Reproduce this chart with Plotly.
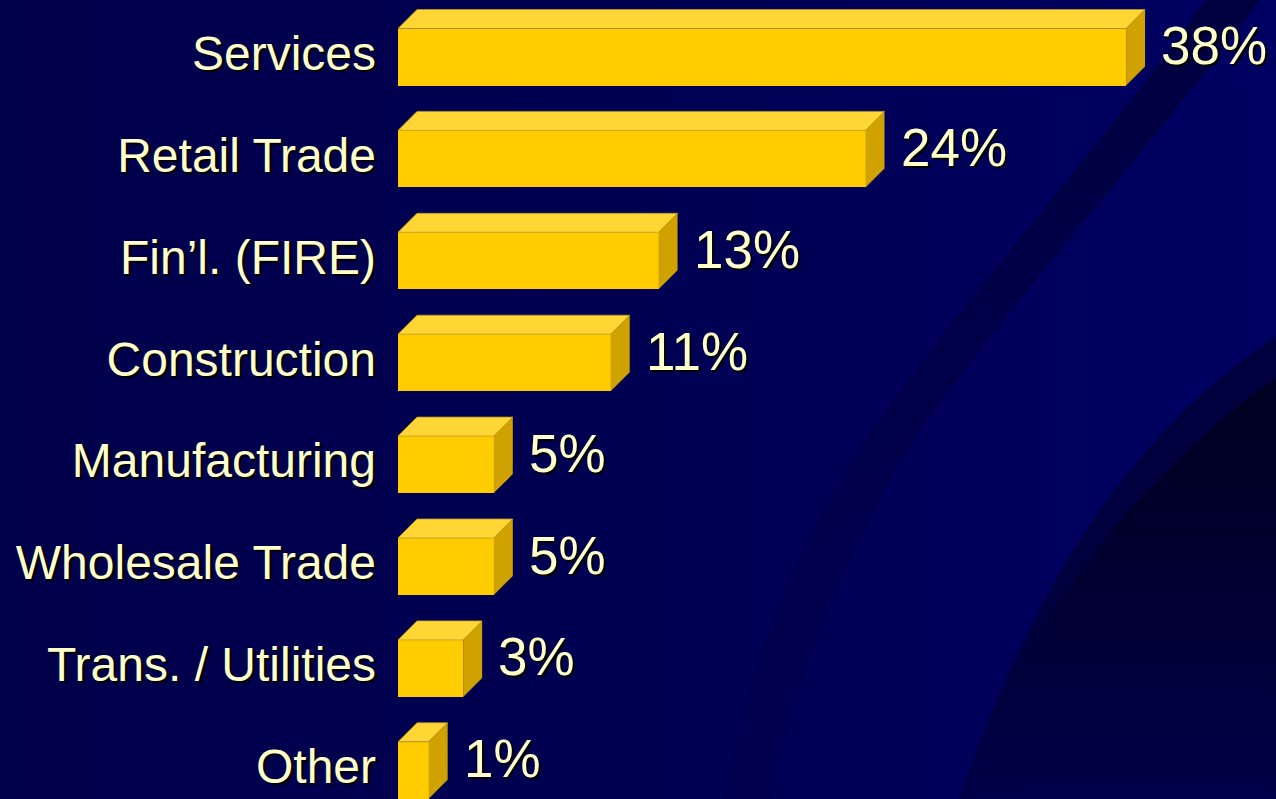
import base64
import plotly.graph_objects as go

categories = ["Services", "Retail Trade", "Fin’l. (FIRE)", "Construction",
              "Manufacturing", "Wholesale Trade", "Trans. / Utilities", "Other"]
values = [38.0, 24.4, 13.6, 11.1, 5.0, 5.0, 3.4, 1.6]
value_labels = ["38%", "24%", "13%", "11%", "5%", "5%", "3%", "1%"]

FRONT = "#FFCC00"
TOP = "#FFD633"
SIDE = "#CFA200"
TEXT = "#FFFFCC"
SHADOW = "2px 2px 1px #000000"
FONT = "Liberation Sans, Arial, sans-serif"

W, H = 1276, 799
L = 398
PX_PER_PCT = 19.16
ROW = 101.9
xmax = (W - L) / PX_PER_PCT
bar_h = 57 / ROW
dx = 19 / PX_PER_PCT
dy = 19 / ROW

idx = list(range(len(categories)))

# background artwork (dark navy with curved bands)
svg = f"""<svg xmlns='http://www.w3.org/2000/svg' width='{W}' height='{H}' viewBox='0 0 {W} {H}'>
<defs>
<linearGradient id='base' x1='0' y1='0' x2='1' y2='0'>
<stop offset='0' stop-color='#00004A'/><stop offset='0.55' stop-color='#000054'/><stop offset='1' stop-color='#000062'/>
</linearGradient>
<linearGradient id='bandA' x1='0' y1='0' x2='0' y2='1'>
<stop offset='0' stop-color='#00003A' stop-opacity='0.85'/><stop offset='0.6' stop-color='#00003A' stop-opacity='0.45'/><stop offset='1' stop-color='#00003A' stop-opacity='0.2'/>
</linearGradient>
<linearGradient id='dark' x1='0' y1='0' x2='0' y2='1'>
<stop offset='0' stop-color='#000020'/><stop offset='0.55' stop-color='#000034'/><stop offset='1' stop-color='#000048'/>
</linearGradient>
</defs>
<rect width='{W}' height='{H}' fill='url(#base)'/>
<path d='M1205,0 L1260,0 C1150,150 1020,290 920,430 C850,540 800,660 770,799 L725,799 C748,660 800,540 872,430 C970,290 1100,150 1205,0 Z' fill='url(#bandA)'/>
<path d='M1276,336 C1150,420 1040,560 960,799 L1276,799 Z' fill='#00003E'/>
<path d='M1276,378 C1160,460 1080,560 1010,680 C990,720 975,760 965,799 L1276,799 Z' fill='url(#dark)'/>
</svg>"""
bg_uri = "data:image/svg+xml;base64," + base64.b64encode(svg.encode()).decode()

fig = go.Figure()

# front faces
fig.add_trace(go.Bar(
    y=idx, x=values, orientation="h", width=bar_h,
    marker=dict(color=FRONT, line=dict(width=0)),
    hoverinfo="skip", showlegend=False,
))

# top and side faces built from the values
tx, ty, sx, sy = [], [], [], []
for i, v in zip(idx, values):
    top = i - bar_h / 2
    bot = i + bar_h / 2
    tx += [0, v, v + dx, dx, 0, None]
    ty += [top, top, top - dy, top - dy, top, None]
    sx += [v, v + dx, v + dx, v, v, None]
    sy += [top, top - dy, bot - dy, bot, top, None]

fig.add_trace(go.Scatter(x=tx, y=ty, mode="lines", fill="toself",
                         fillcolor=TOP, line=dict(width=0.8, color="#B89A30"),
                         hoverinfo="skip", showlegend=False))
fig.add_trace(go.Scatter(x=sx, y=sy, mode="lines", fill="toself",
                         fillcolor=SIDE, line=dict(width=0),
                         hoverinfo="skip", showlegend=False))

annotations = []
for i, v, t in zip(idx, values, value_labels):
    annotations.append(dict(
        x=v + dx, y=i - dy / 2, xref="x", yref="y",
        text=t, showarrow=False, xanchor="left", yanchor="middle",
        xshift=14, yshift=2,
        font=dict(family=FONT, size=53, color=TEXT, shadow=SHADOW),
    ))

fig.update_layout(
    width=W, height=H,
    margin=dict(l=0, r=0, t=0, b=0),
    paper_bgcolor="#000054",
    plot_bgcolor="rgba(0,0,0,0)",
    images=[dict(source=bg_uri, xref="paper", yref="paper", x=0, y=1,
                 sizex=1, sizey=1, sizing="stretch", layer="below",
                 xanchor="left", yanchor="top")],
    annotations=annotations,
    bargap=0,
    xaxis=dict(domain=[L / W, 1], range=[0, xmax], visible=False, fixedrange=True),
    yaxis=dict(
        range=[(H - 57) / ROW, -57 / ROW],
        tickmode="array", tickvals=[i - 4 / ROW for i in idx], ticktext=categories,
        showgrid=False, zeroline=False, showline=False, ticks="",
        ticklabelstandoff=21,
        tickfont=dict(family=FONT, size=48, color=TEXT, shadow=SHADOW),
        fixedrange=True,
    ),
)

fig.write_html(
    "out.html",
    config={"displayModeBar": False},
    post_script="document.body.style.margin='0';document.body.style.overflow='hidden';",
)
